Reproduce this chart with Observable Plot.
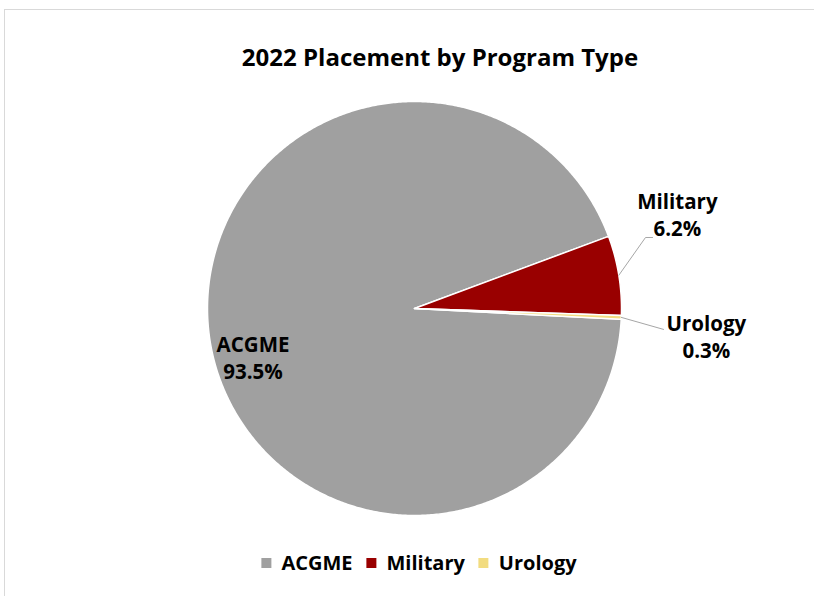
<!DOCTYPE html>
<html><head><meta charset="utf-8">
<script src="https://cdn.jsdelivr.net/npm/d3@7"></script>
<script src="https://cdn.jsdelivr.net/npm/@observablehq/plot@0.6"></script>
<style>
body{margin:0;overflow:hidden;background:#fff;font-family:"Open Sans",Lato,sans-serif;}
#root{position:relative;width:814px;height:596px;overflow:hidden;}
#frame{position:absolute;left:4px;top:9px;width:900px;height:700px;border-left:1px solid #d9d9d9;border-top:1px solid #d9d9d9;}
#title{position:absolute;left:440px;top:40px;transform:translateX(-50%);white-space:nowrap;font-weight:bold;font-size:24px;line-height:34px;color:#000;}
#chart{position:absolute;left:0;top:90px;}
#legend{position:absolute;left:419px;top:549px;transform:translateX(-50%);white-space:nowrap;display:flex;align-items:center;font-weight:bold;font-size:20px;line-height:28px;color:#000;}
#legend .item{display:flex;align-items:center;margin:0 7px;}
#legend .sw{width:10px;height:10px;margin-right:10px;}
</style></head><body>
<div id="root">
<div id="frame"></div>
<div id="title">2022 Placement by Program Type</div>
<div id="chart"></div>
<div id="legend"></div>
</div>
<script>
const categories = ["ACGME", "Military", "Urology"];
const shares = [93.5, 6.2, 0.3];
const colors = ["#a0a0a0", "#990000", "#f2dc80"];
const firstSliceAngle = 93; // degrees, clockwise from 12 o'clock

// label layout (in pie-radius units, relative to the centre)
const labelLayout = [
  {x: -0.78, y: -0.232},
  {x: 1.27, y: 0.459},
  {x: 1.41, y: -0.132}
];
// leader-line elbows (pie-radius units); null = no leader
const leaderElbows = [
  null,
  [{x: 1.116, y: 0.343}, {x: 1.15, y: 0.343}],
  [{x: 1.203, y: -0.101}]
];

const data = categories.map((c, i) => ({category: c, share: shares[i]}));
const rad = Math.PI / 180;
const arcs = d3.pie().sort(null).value(d => d.share)
  .startAngle(firstSliceAngle * rad).endAngle((firstSliceAngle + 360) * rad)(data);

const slicePts = [];
arcs.forEach(a => {
  const c = a.data.category;
  const n = Math.max(2, Math.ceil((a.endAngle - a.startAngle) / (0.5 * rad)));
  slicePts.push({category: c, x: 0, y: 0});
  for (let k = 0; k <= n; k++) {
    const t = a.startAngle + (a.endAngle - a.startAngle) * k / n;
    slicePts.push({category: c, x: Math.sin(t), y: Math.cos(t)});
  }
  slicePts.push({category: c, x: 0, y: 0});
});

const labels = arcs.map((a, i) => ({
  x: labelLayout[i].x, y: labelLayout[i].y,
  text: `${a.data.category}\n${a.data.share.toFixed(1)}%`
}));

const leaderPts = [];
arcs.forEach((a, i) => {
  if (!leaderElbows[i]) return;
  const m = (a.startAngle + a.endAngle) / 2;
  leaderPts.push({category: a.data.category, x: Math.sin(m), y: Math.cos(m)});
  leaderElbows[i].forEach(p => leaderPts.push({category: a.data.category, x: p.x, y: p.y}));
});

const cx = 414, cy = 218, r = 207;
const chart = Plot.plot({
  width: 814,
  height: 440,
  margin: 0,
  style: {fontFamily: "'Open Sans', Lato, sans-serif", background: "transparent"},
  x: {domain: [-1, 1], range: [cx - r, cx + r], axis: null},
  y: {domain: [-1, 1], range: [cy + r, cy - r], axis: null},
  color: {domain: categories, range: colors},
  marks: [
    Plot.line(slicePts, {x: "x", y: "y", z: "category", fill: "category", stroke: "white", strokeWidth: 1.5, strokeLinejoin: "round"}),
    Plot.line(leaderPts, {x: "x", y: "y", z: "category", stroke: "#a6a6a6", strokeWidth: 1}),
    Plot.text(labels, {x: "x", y: "y", text: "text", fontSize: 20.5, fontWeight: "bold", lineHeight: 1.32, fill: "black"})
  ]
});
document.getElementById("chart").appendChild(chart);

const legend = document.getElementById("legend");
categories.forEach((c, i) => {
  const item = document.createElement("div");
  item.className = "item";
  const sw = document.createElement("span");
  sw.className = "sw";
  sw.style.background = colors[i];
  const t = document.createElement("span");
  t.textContent = c;
  item.appendChild(sw); item.appendChild(t);
  legend.appendChild(item);
});
</script>
</body></html>
